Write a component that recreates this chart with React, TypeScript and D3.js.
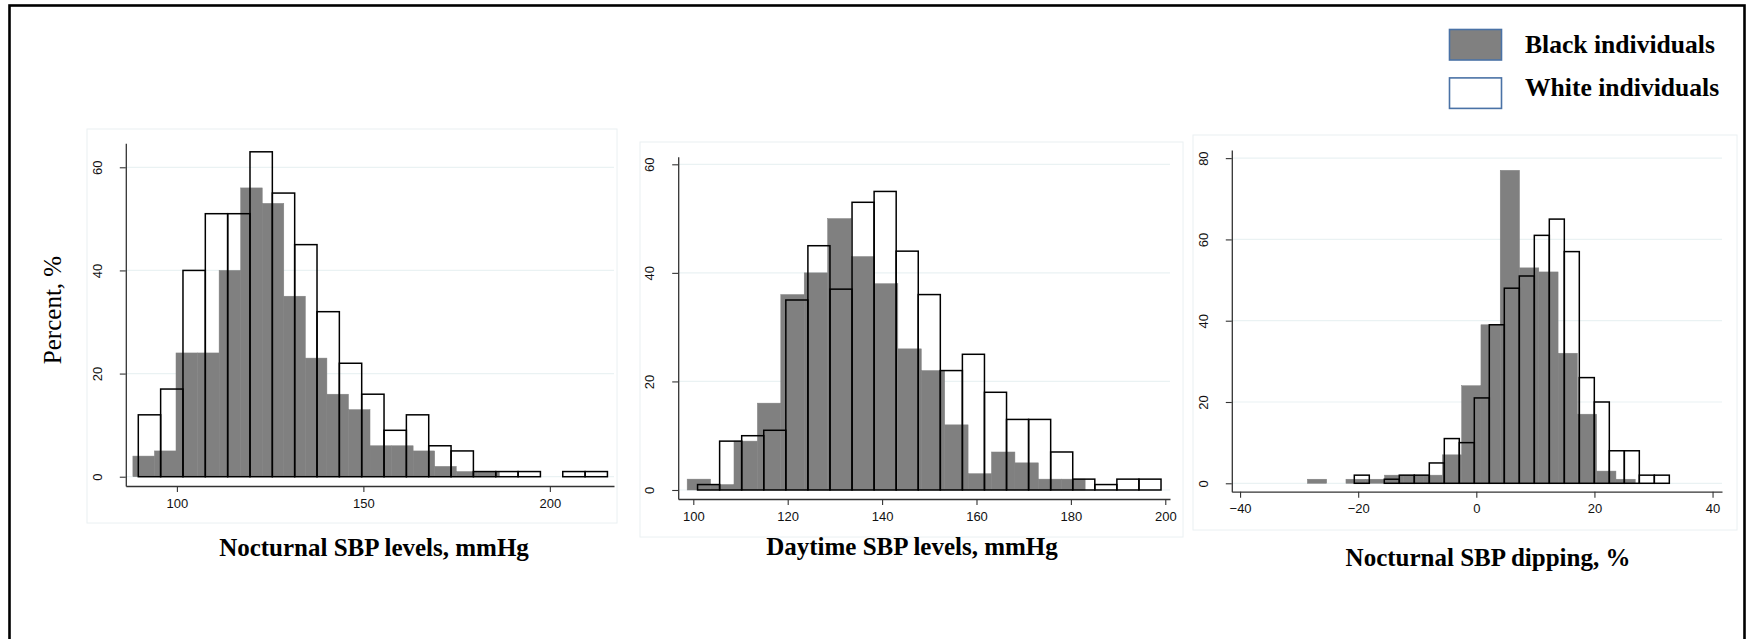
import React, { useRef, useEffect } from 'react';
import * as d3 from 'd3';

// Percent per bin (left to right)
const nocturnalBlack = [4, 5, 24, 24, 40, 56, 53, 35, 23, 16, 13, 6, 6, 5, 2, 1, 1];
const nocturnalWhite = [12, 17, 40, 51, 51, 63, 55, 45, 32, 22, 16, 9, 12, 6, 5, 1, 1, 1, 0, 1, 1];
const daytimeBlack = [2, 1, 9, 16, 36, 40, 50, 43, 38, 26, 22, 12, 3, 7, 5, 2, 2];
const daytimeWhite = [1, 9, 10, 11, 35, 45, 37, 53, 55, 44, 36, 22, 25, 18, 13, 13, 7, 2, 1, 2, 2];
const dippingBlack = [1, 0, 1, 1, 2, 2, 2, 7, 24, 39, 77, 53, 52, 32, 17, 3, 1];
const dippingWhite = [2, 0, 1, 2, 2, 5, 11, 10, 21, 39, 48, 51, 61, 65, 57, 26, 20, 8, 8, 2, 2];

// first bin edge and bin width (data units)
const nocturnalBlackBins = [88.2, 5.78];
const nocturnalWhiteBins = [89.65, 5.99];
const daytimeBlackBins = [98.7, 4.96];
const daytimeWhiteBins = [100.9, 4.676];
const dippingBlackBins = [-28.6, 3.265];
const dippingWhiteBins = [-20.66, 2.54];

// tick labels
const nocturnalXTicks = [100, 150, 200];
const daytimeXTicks = [100, 120, 140, 160, 180, 200];
const dippingXTicks = [-40, -20, 0, 20, 40];
const percentTicks = [0, 20, 40, 60];
const dippingYTicks = [0, 20, 40, 60, 80];

const axisTitles = ['Nocturnal SBP levels, mmHg', 'Daytime SBP levels, mmHg', 'Nocturnal SBP dipping, %'];
const legendLabels = ['Black individuals', 'White individuals'];
const yTitle = 'Percent, %';

const GRAY = '#808080';
const GRID = '#eaf2f3';

const panels = [
  {
    black: nocturnalBlack, white: nocturnalWhite,
    blackBins: nocturnalBlackBins, whiteBins: nocturnalWhiteBins,
    xTicks: nocturnalXTicks, yTicks: percentTicks, title: axisTitles[0],
    xDomain: [86.3, 217.2], yDomain: [-1.8, 64.65],
    left: 125.8, right: 614, bottom: 486, top: 143.3,
    region: [87, 129, 617, 523], titleX: 374, titleY: 556,
  },
  {
    black: daytimeBlack, white: daytimeWhite,
    blackBins: daytimeBlackBins, whiteBins: daytimeWhiteBins,
    xTicks: daytimeXTicks, yTicks: percentTicks, title: axisTitles[1],
    xDomain: [96.8, 201], yDomain: [-1.66, 61.4],
    left: 678.2, right: 1170, bottom: 499, top: 156.7,
    region: [640, 142, 1183, 537], titleX: 912, titleY: 555,
  },
  {
    black: dippingBlack, white: dippingWhite,
    blackBins: dippingBlackBins, whiteBins: dippingWhiteBins,
    xTicks: dippingXTicks, yTicks: dippingYTicks, title: axisTitles[2],
    xDomain: [-41.4, 41.6], yDomain: [-2.07, 82],
    left: 1231.8, right: 1722, bottom: 491.7, top: 150,
    region: [1193, 135, 1737, 530], titleX: 1488, titleY: 566,
  },
];

const toBins = (values: number[], bins: number[]) =>
  values.map((v, i) => ({ x0: bins[0] + i * bins[1], x1: bins[0] + (i + 1) * bins[1], v }))
    .filter(d => d.v > 0);

const App = () => {
  const svgRef = useRef<SVGSVGElement>(null);

  useEffect(() => {
    const svg = d3.select(svgRef.current);
    svg.selectAll('*').remove();

    // outer frame
    svg.append('rect')
      .attr('x', 9.5).attr('y', 5.5)
      .attr('width', 1735).attr('height', 700)
      .attr('fill', 'none').attr('stroke', '#000').attr('stroke-width', 2.6);

    panels.forEach((p, pi) => {
      const x = d3.scaleLinear().domain(p.xDomain).range([p.left, p.right]);
      const y = d3.scaleLinear().domain(p.yDomain).range([p.bottom, p.top]);
      const g = svg.append('g');

      // light plot region outline
      g.append('rect')
        .attr('x', p.region[0]).attr('y', p.region[1])
        .attr('width', p.region[2] - p.region[0]).attr('height', p.region[3] - p.region[1])
        .attr('fill', 'none').attr('stroke', '#eaf0f2').attr('stroke-width', 1);

      // gridlines
      g.selectAll('.grid')
        .data(p.yTicks)
        .join('line')
        .attr('x1', p.left).attr('x2', p.right)
        .attr('y1', d => y(d)).attr('y2', d => y(d))
        .attr('stroke', GRID).attr('stroke-width', 1.2);

      // black individuals: filled gray bars
      g.selectAll('.bb')
        .data(toBins(p.black, p.blackBins))
        .join('rect')
        .attr('x', d => x(d.x0))
        .attr('y', d => y(d.v))
        .attr('width', d => x(d.x1) - x(d.x0))
        .attr('height', d => y(0) - y(d.v))
        .attr('fill', GRAY).attr('stroke', GRAY).attr('stroke-width', 0.5);

      // white individuals: outline only
      g.selectAll('.wb')
        .data(toBins(p.white, p.whiteBins))
        .join('rect')
        .attr('x', d => x(d.x0))
        .attr('y', d => y(d.v))
        .attr('width', d => x(d.x1) - x(d.x0))
        .attr('height', d => y(0) - y(d.v))
        .attr('fill', 'none').attr('stroke', '#000').attr('stroke-width', 1.5);

      // x axis
      const xa = g.append('g')
        .attr('transform', `translate(0,${p.bottom})`)
        .call(d3.axisBottom(x).tickValues(p.xTicks).tickSize(6).tickSizeOuter(0).tickPadding(6.5).tickFormat(d3.format('d')));
      // y axis
      const ya = g.append('g')
        .attr('transform', `translate(${p.left},0)`)
        .call(d3.axisLeft(y).tickValues(p.yTicks).tickSize(6).tickSizeOuter(0));

      [xa, ya].forEach(a => {
        a.selectAll('path').attr('stroke', '#333').attr('stroke-width', 1.3);
        a.selectAll('line').attr('stroke', '#333').attr('stroke-width', 1.1);
        a.selectAll('text')
          .attr('font-family', '"Liberation Sans", Arial, sans-serif')
          .attr('font-size', 13).attr('fill', '#111');
      });
      ya.selectAll('text')
        .attr('transform', 'rotate(-90)')
        .attr('x', 0).attr('y', -24.3).attr('dy', 0)
        .attr('text-anchor', 'middle');

      // axis title
      svg.append('text')
        .attr('x', p.titleX).attr('y', p.titleY)
        .attr('text-anchor', 'middle')
        .attr('font-family', '"Liberation Serif", "Times New Roman", serif')
        .attr('font-weight', 'bold').attr('font-size', 25)
        .text(p.title);

      if (pi === 0) {
        svg.append('text')
          .attr('transform', 'translate(61,310) rotate(-90)')
          .attr('text-anchor', 'middle')
          .attr('font-family', '"Liberation Serif", "Times New Roman", serif')
          .attr('font-size', 25)
          .text(yTitle);
      }
    });

    // legend
    const legend = svg.append('g');
    legendLabels.forEach((label, i) => {
      legend.append('rect')
        .attr('x', 1449.5).attr('y', 29.5 + i * 48.4)
        .attr('width', 52).attr('height', 30.5)
        .attr('fill', i === 0 ? GRAY : '#fff')
        .attr('stroke', '#4a72a6').attr('stroke-width', 1.6);
      legend.append('text')
        .attr('x', 1525).attr('y', 53 + i * 43)
        .attr('font-family', '"Liberation Serif", "Times New Roman", serif')
        .attr('font-weight', 'bold').attr('font-size', 25.6)
        .text(label);
    });
  }, []);

  return (
    <svg ref={svgRef} width="1748" height="639"
      style={{ position: 'absolute', left: 0, top: 0, background: '#fff' }}></svg>
  );
};

export default App;
